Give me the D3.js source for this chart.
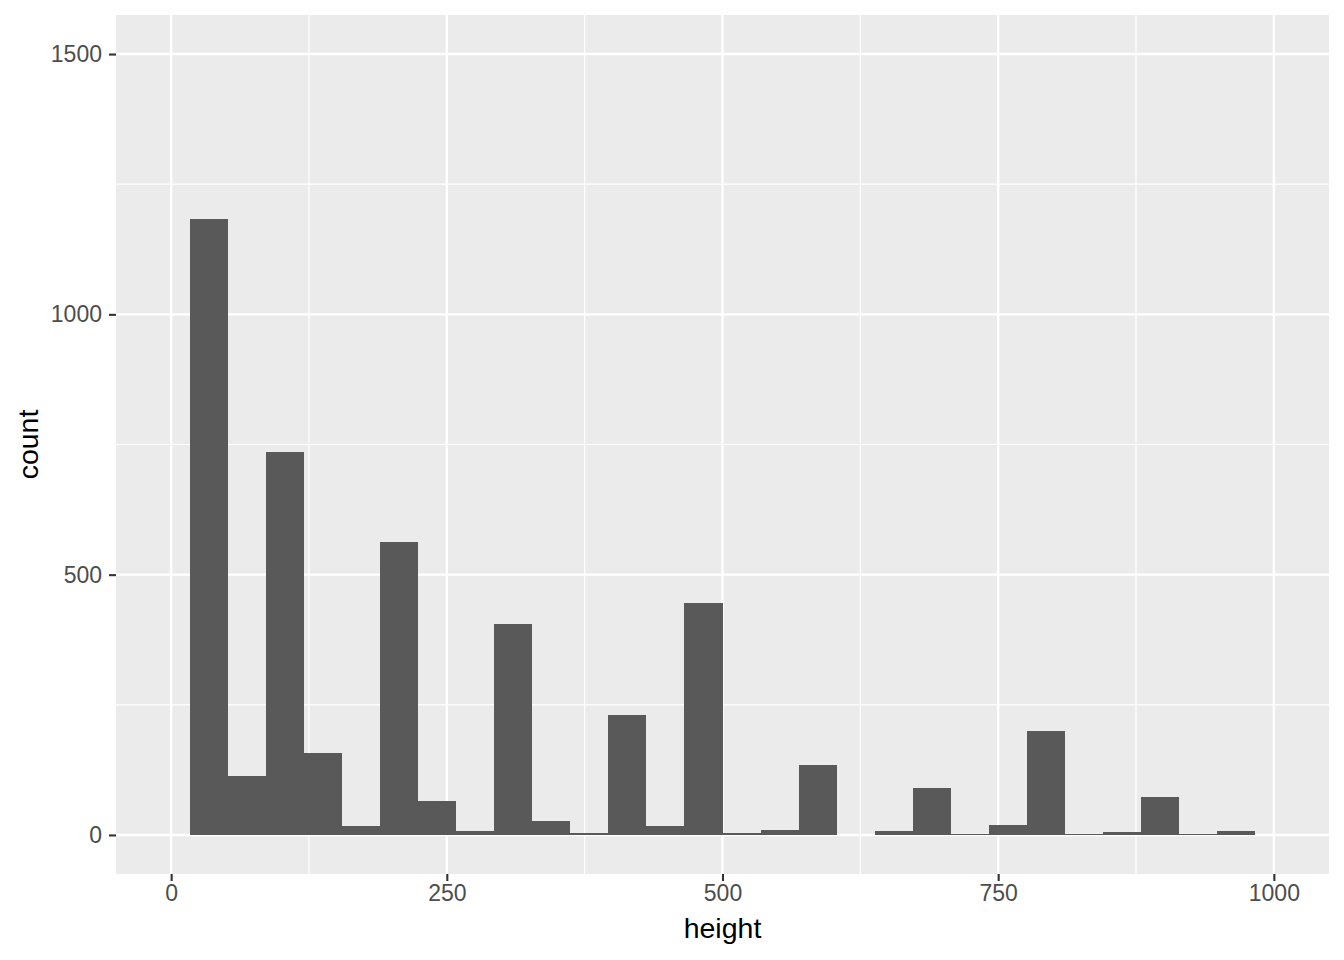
<!DOCTYPE html>
<html>
<head>
<meta charset="utf-8">
<script src="https://cdn.jsdelivr.net/npm/d3@7"></script>
<style>
  body { margin: 0; background: #fff; }
  text { font-family: "Liberation Sans", Arial, sans-serif; }
</style>
</head>
<body>
<script>
// metrics
const width = 1344, height = 960;
const panel = {left: 116, right: 1329, top: 15, bottom: 874};

// data: counts per bin (bins of width 1000/29, first edge at half a bin)
const binCount = 29;
const counts = [1184, 113, 735, 157, 17, 563, 65, 7, 405, 27, 3, 230, 18, 445,
                3, 10, 134, 0, 8, 90, 1, 19, 200, 1, 5, 73, 1, 8];
const xTicks = [0, 250, 500, 750, 1000];
const xMinor = [125, 375, 625, 875];
const yTicks = [0, 500, 1000, 1500];
const yMinor = [250, 750, 1250];

const binWidth = 1000 / binCount;
const bins = counts.map((c, i) => ({x0: binWidth / 2 + i * binWidth, x1: binWidth / 2 + (i + 1) * binWidth, count: c}));

// elements
const svg = d3.select('body').append('svg')
    .attr('width', width)
    .attr('height', height);

// scales
const xScale = d3.scaleLinear().domain([-50, 1050]).range([panel.left, panel.right]);
const yScale = d3.scaleLinear().domain([-75, 1575]).range([panel.bottom, panel.top]);

// panel background
svg.append('rect')
    .attr('x', panel.left).attr('y', panel.top)
    .attr('width', panel.right - panel.left).attr('height', panel.bottom - panel.top)
    .attr('fill', '#EBEBEB');

// grid
const grid = svg.append('g');
grid.selectAll('.xmin').data(xMinor).enter().append('line')
    .attr('x1', d => xScale(d)).attr('x2', d => xScale(d))
    .attr('y1', panel.top).attr('y2', panel.bottom)
    .attr('stroke', '#fff').attr('stroke-width', 1.2);
grid.selectAll('.ymin').data(yMinor).enter().append('line')
    .attr('y1', d => yScale(d)).attr('y2', d => yScale(d))
    .attr('x1', panel.left).attr('x2', panel.right)
    .attr('stroke', '#fff').attr('stroke-width', 1.2);
grid.selectAll('.xmaj').data(xTicks).enter().append('line')
    .attr('x1', d => xScale(d)).attr('x2', d => xScale(d))
    .attr('y1', panel.top).attr('y2', panel.bottom)
    .attr('stroke', '#fff').attr('stroke-width', 2.4);
grid.selectAll('.ymaj').data(yTicks).enter().append('line')
    .attr('y1', d => yScale(d)).attr('y2', d => yScale(d))
    .attr('x1', panel.left).attr('x2', panel.right)
    .attr('stroke', '#fff').attr('stroke-width', 2.4);

// bars
svg.append('g').selectAll('rect').data(bins).enter().append('rect')
    .attr('x', d => xScale(d.x0))
    .attr('width', d => xScale(d.x1) - xScale(d.x0))
    .attr('y', d => yScale(d.count))
    .attr('height', d => yScale(0) - yScale(d.count))
    .attr('fill', '#595959')
    .attr('shape-rendering', 'crispEdges');

// axes
const fmt = d3.format('d');
const xAxis = svg.append('g')
    .attr('transform', `translate(0, ${panel.bottom})`)
    .call(d3.axisBottom(xScale).tickValues(xTicks).tickFormat(fmt).tickSize(7).tickPadding(4));
const yAxis = svg.append('g')
    .attr('transform', `translate(${panel.left}, 0)`)
    .call(d3.axisLeft(yScale).tickValues(yTicks).tickFormat(fmt).tickSize(7).tickPadding(7));
[xAxis, yAxis].forEach(a => {
    a.select('.domain').remove();
    a.selectAll('.tick line').attr('stroke', '#333').attr('stroke-width', 2.1);
    a.selectAll('.tick text').attr('fill', '#4D4D4D').style('font-size', '23px')
        .style('font-family', '"Liberation Sans", Arial, sans-serif');
});

// titles
svg.append('text')
    .attr('x', (panel.left + panel.right) / 2).attr('y', 938)
    .attr('text-anchor', 'middle').style('font-size', '28.5px').attr('fill', '#000')
    .text('height');
svg.append('text')
    .attr('transform', `translate(38, ${(panel.top + panel.bottom) / 2}) rotate(-90)`)
    .attr('text-anchor', 'middle').style('font-size', '28.5px').attr('fill', '#000')
    .text('count');
</script>
</body>
</html>
